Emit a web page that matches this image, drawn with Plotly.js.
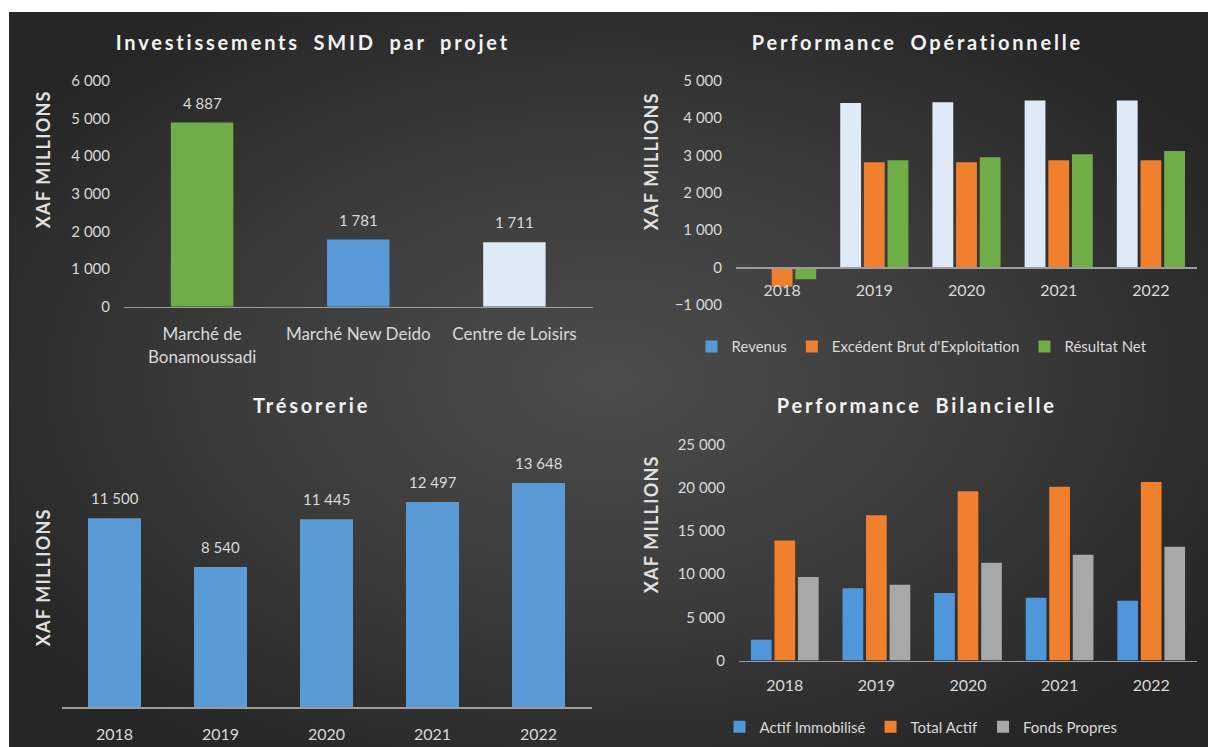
<!DOCTYPE html>
<html>
<head>
<meta charset="utf-8">
<script src="https://cdn.plot.ly/plotly-3.0.1.min.js"></script>
<style>
  html, body { margin: 0; padding: 0; background: #ffffff; }
  #bg { position: absolute; left: 9px; top: 12px; width: 1199px; height: 735px;
        background: radial-gradient(ellipse 60% 60% at 50% 50%, #4c4c4c 0%, #3c3c3c 50%, #262626 100%); }
  #chart { position: absolute; left: 0; top: 0; width: 1208px; height: 747px; }
</style>
</head>
<body>
<div id="bg"></div>
<div id="chart"></div>
<script>
// ---------- DATA ----------
const projects = ["Marché de Bonamoussadi", "Marché New Deido", "Centre de Loisirs"];
const projectTickLabels = ["Marché de<br>Bonamoussadi", "Marché New Deido", "Centre de Loisirs"];
const investments = [4887, 1781, 1711];

const years = ["2018", "2019", "2020", "2021", "2022"];

const revenus = [null, 4400, 4420, 4470, 4470];
const ebe = [-520, 2815, 2815, 2870, 2870];
const resultatNet = [-320, 2870, 2950, 3030, 3120];

const tresorerie = [11500, 8540, 11445, 12497, 13648];

const actifImmobilise = [2400, 8350, 7810, 7270, 6920];
const totalActif = [13900, 16800, 19580, 20120, 20660];
const fondsPropres = [9660, 8770, 11320, 12250, 13170];

const titles = ["Investissements SMID par projet", "Performance Opérationnelle", "Trésorerie", "Performance Bilancielle"];
const yTitle = "XAF MILLIONS";
const opsNames = ["Revenus", "Excédent Brut d'Exploitation", "Résultat Net"];
const bilanNames = ["Actif Immobilisé", "Total Actif", "Fonds Propres"];

// ---------- STYLE / LAYOUT HELPERS ----------
const W = 1208, H = 747;
const FONT = "Lato, 'Open Sans', sans-serif";
const TXT = "#d9d9d9";
const AXL = "#9c9c9c";
function dx(a, b) { return [a / W, b / W]; }
function dy(top, bottom) { return [1 - bottom / H, 1 - top / H]; }
function fmt(v) { return String(v).replace(/\B(?=(\d{3})+(?!\d))/g, " "); }

const cGreen = "#70ad47", cBlue = "#5899d8", cLight = "#deebf7", cOrange = "#f07f2e", cGray = "#a8a8a8", cBlue3 = "#5b9bd5";

const traces = [
  { type: "bar", x: projects, y: investments, xaxis: "x", yaxis: "y", width: 0.4,
    marker: { color: [cGreen, cBlue, cLight] }, showlegend: false },

  { type: "bar", name: opsNames[0], x: years, y: revenus, xaxis: "x2", yaxis: "y2",
    marker: { color: [cBlue, cLight, cLight, cLight, cLight] }, legend: "legend" },
  { type: "bar", name: opsNames[1], x: years, y: ebe, xaxis: "x2", yaxis: "y2",
    marker: { color: cOrange }, legend: "legend" },
  { type: "bar", name: opsNames[2], x: years, y: resultatNet, xaxis: "x2", yaxis: "y2",
    marker: { color: cGreen }, legend: "legend" },

  { type: "bar", x: years, y: tresorerie, xaxis: "x3", yaxis: "y3", width: 0.5,
    marker: { color: cBlue3 }, showlegend: false },

  { type: "bar", name: bilanNames[0], x: years, y: actifImmobilise, xaxis: "x4", yaxis: "y4",
    marker: { color: "#4f97da" }, legend: "legend2" },
  { type: "bar", name: bilanNames[1], x: years, y: totalActif, xaxis: "x4", yaxis: "y4",
    marker: { color: cOrange }, legend: "legend2" },
  { type: "bar", name: bilanNames[2], x: years, y: fondsPropres, xaxis: "x4", yaxis: "y4",
    marker: { color: cGray }, legend: "legend2" }
];

const xBase = { type: "category", showgrid: false, zeroline: false, showline: true, linecolor: AXL, linewidth: 1.3,
  ticks: "", tickfont: { family: FONT, size: 16, color: TXT }, ticklabelstandoff: 12, fixedrange: true };
const yBase = { showgrid: false, zeroline: false, showline: false, ticks: "", separatethousands: true, exponentformat: "none",
  tickformat: ",d", tickfont: { family: FONT, size: 15, color: TXT }, ticklabelstandoff: 13, fixedrange: true };

const titleFont = { family: FONT, size: 20, color: "#f2f2f2", weight: "bold" };
const yTitleFont = { family: FONT, size: 18, color: "#e0e0e0", weight: "bold" };

const annotations = [
  { text: titles[0], x: 313 / W, y: 1 - 42 / H },
  { text: titles[1], x: 917 / W, y: 1 - 42 / H },
  { text: titles[2], x: 312 / W, y: 1 - 405 / H },
  { text: titles[3], x: 917 / W, y: 1 - 405 / H }
].map(a => Object.assign(a, { xref: "paper", yref: "paper", showarrow: false, xanchor: "center", yanchor: "middle", font: titleFont }));

[[43, 159], [651, 161], [43, 577], [651, 524]].forEach(p => {
  annotations.push({ text: yTitle, x: p[0] / W, y: 1 - p[1] / H, xref: "paper", yref: "paper", showarrow: false,
    textangle: -90, xanchor: "center", yanchor: "middle", font: yTitleFont });
});

const labelFont = { family: FONT, size: 15, color: TXT };
investments.forEach((v, i) => annotations.push({ xref: "x", yref: "y", x: i, y: v, text: fmt(v),
  yshift: 20, showarrow: false, font: labelFont }));
tresorerie.forEach((v, i) => annotations.push({ xref: "x3", yref: "y3", x: i, y: v, text: fmt(v),
  yshift: 20, showarrow: false, font: labelFont }));

const layout = {
  width: W, height: H,
  margin: { l: 0, r: 0, t: 0, b: 0 },
  paper_bgcolor: "rgba(0,0,0,0)", plot_bgcolor: "rgba(0,0,0,0)",
  separators: ", ",
  font: { family: FONT, color: TXT },
  barmode: "group", bargap: 0.23, bargroupgap: 0.12,
  xaxis: Object.assign({}, xBase, { domain: dx(124, 592.5), anchor: "y", range: [-0.5, 2.5], tickvals: projects, ticktext: projectTickLabels,
    tickfont: { family: FONT, size: 17, color: TXT } }),
  yaxis: Object.assign({}, yBase, { domain: dy(80.7, 306.7), anchor: "x", range: [0, 6000], dtick: 1000 }),
  xaxis2: Object.assign({}, xBase, { domain: dx(736, 1197), anchor: "free", position: 1 - 267.3 / H, range: [-0.5, 4.5], ticklabelstandoff: 8 }),
  yaxis2: Object.assign({}, yBase, { domain: dy(80.7, 304.7), anchor: "x2", range: [-1000, 5000], dtick: 1000 }),
  xaxis3: Object.assign({}, xBase, { domain: dx(61.5, 591.5), anchor: "y3", range: [-0.5, 4.5] }),
  yaxis3: Object.assign({}, yBase, { domain: dy(707.3 - 246.5, 707.3), anchor: "x3", range: [0, 15000], showticklabels: false }),
  xaxis4: Object.assign({}, xBase, { domain: dx(739, 1197), anchor: "y4", range: [-0.5, 4.5], ticklabelstandoff: 10 }),
  yaxis4: Object.assign({}, yBase, { domain: dy(444.5, 660.5), anchor: "x4", range: [0, 25000], dtick: 5000 }),
  legend: { orientation: "h", x: 922 / W, y: 1 - 346.7 / H, xanchor: "center", yanchor: "middle",
    bgcolor: "rgba(0,0,0,0)", font: { family: FONT, size: 15, color: TXT }, itemwidth: 30, traceorder: "normal" },
  legend2: { orientation: "h", x: 921 / W, y: 1 - 727 / H, xanchor: "center", yanchor: "middle",
    bgcolor: "rgba(0,0,0,0)", font: { family: FONT, size: 15, color: TXT }, itemwidth: 30, traceorder: "normal" },
  annotations: annotations
};

Plotly.newPlot("chart", traces, layout, { displayModeBar: false, staticPlot: true }).then(() => {
  document.querySelectorAll("g.annotation").forEach(g => {
    const idx = +g.getAttribute("data-index");
    const t = g.querySelector("text");
    if (!t) return;
    if (idx < 4) { t.style.letterSpacing = "2.8px"; t.style.wordSpacing = "6px"; }
    else if (idx < 8) { t.style.letterSpacing = "1.2px"; }
  });
});
</script>
</body>
</html>
